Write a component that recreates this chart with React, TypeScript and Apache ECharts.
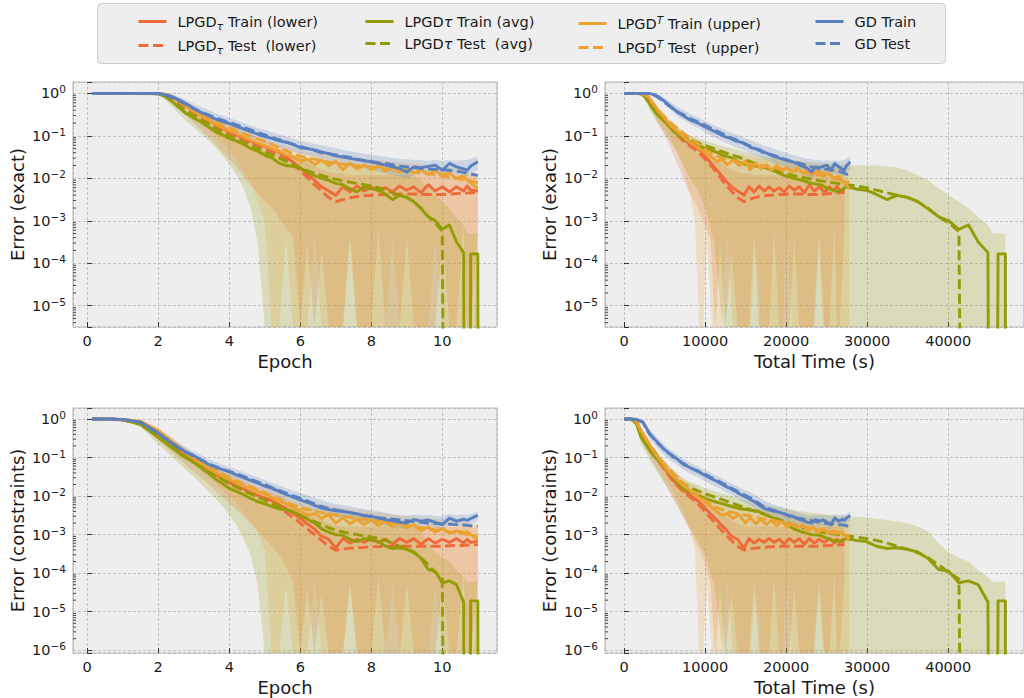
import React, { useEffect, useRef } from 'react';
import * as echarts from 'echarts';

// ---------------- x values ----------------
const EPOCHS = [0.14, 0.5, 1.0, 1.5, 2.0, 2.2, 2.4, 2.6, 2.8, 3.0,
  3.2, 3.4, 3.6, 3.8, 4.0, 4.2, 4.4, 4.6, 4.8, 5.0,
  5.2, 5.4, 5.6, 5.8, 6.0, 6.2, 6.4, 6.6, 6.8, 7.0,
  7.2, 7.4, 7.6, 7.8, 8.0, 8.2, 8.4, 8.6, 8.8, 9.0,
  9.2, 9.4, 9.6, 9.8, 10.0, 10.2, 10.4, 10.6, 10.7, 10.8,
  11.0, 11.05];

const TIME_LOWER = [0, 500, 1050, 1580, 2100, 2520, 2940, 3360, 3790, 4210,
  4640, 5060, 5490, 5920, 6350, 6780, 7200, 7640, 8120, 8600,
  9090, 9570, 10060, 10640, 11250, 11870, 12500, 13250, 14000, 14800,
  15420, 16040, 16660, 17280, 17900, 18520, 19140, 19760, 20380, 21000,
  21620, 22240, 22860, 23480, 24100, 24720, 25340, 25960, 26270, 26580,
  27200, null];
const TIME_AVG = [0, 500, 1050, 1580, 2100, 2550, 3000, 3480, 3980, 4500,
  5040, 5600, 6180, 6700, 7250, 7900, 8940, 10030, 11120, 12210,
  13300, 14390, 15480, 16570, 17660, 18750, 19840, 20930, 22020, 23110,
  24200, 25290, 26380, 27470, 28620, 29890, 31160, 32430, 33700, 34970,
  36240, 37510, 38780, 40050, 41320, 42500, 43700, 44900, 45500, 46150,
  47050, 47100];
const TIME_UPPER = [0, 500, 1050, 1580, 2100, 2530, 2960, 3390, 3820, 4250,
  4690, 5130, 5570, 6010, 6450, 6890, 7330, 7780, 8260, 8750,
  9250, 9750, 10250, 10850, 11460, 12080, 12720, 13450, 14200, 14950,
  15600, 16250, 16900, 17550, 18200, 18840, 19480, 20120, 20760, 21400,
  22040, 22680, 23320, 23960, 24600, 25240, 25880, 26520, 26840, 27160,
  27800, null];
const TIME_GD = [0, 750, 1550, 2330, 3100, 3670, 4240, 4810, 5390, 6000,
  6640, 7280, 7920, 8570, 9230, 9880, 10520, 11170, 11820, 12460,
  13110, 13760, 14400, 15050, 15700, 16210, 16720, 17230, 17750, 18260,
  18780, 19290, 19800, 20280, 20760, 21240, 21710, 22190, 22670, 23140,
  23620, 24100, 24570, 25050, 25520, 26000, 26470, 26950, 27190, 27420,
  27900, null];

// ---------------- Error (exact) ----------------
const EX_LOW_TRAIN = [1, 1, 1, 0.995, 0.985, 0.933, 0.794, 0.631, 0.501, 0.38,
  0.302, 0.24, 0.191, 0.151, 0.126, 0.105, 0.0891, 0.0759, 0.0631, 0.0562,
  0.0501, 0.0417, 0.0316, 0.024, 0.0174, 0.0126, 0.00891, 0.00631, 0.00501, 0.00398,
  0.00631, 0.00479, 0.00661, 0.00501, 0.00631, 0.00501, 0.00603, 0.00479, 0.00661, 0.00525,
  0.00631, 0.00457, 0.00708, 0.00501, 0.00631, 0.00479, 0.00631, 0.00501, 0.00661, 0.00525,
  0.00501, null];
const EX_LOW_TEST = [1, 1, 1, 0.995, 0.985, 0.912, 0.759, 0.603, 0.468, 0.363,
  0.282, 0.224, 0.174, 0.138, 0.115, 0.0955, 0.0794, 0.0676, 0.0575, 0.0501,
  0.0417, 0.0347, 0.0275, 0.0209, 0.0151, 0.0105, 0.00708, 0.00501, 0.00355, 0.00282,
  0.00316, 0.00347, 0.00372, 0.00389, 0.00398, 0.00407, 0.00417, 0.00417, 0.00427, 0.00427,
  0.00427, 0.00417, 0.00417, 0.00417, 0.00417, 0.00427, 0.00437, 0.00447, 0.00447, 0.00457,
  0.00468, null];
const EX_AVG_TRAIN = [1, 1, 1, 0.995, 0.977, 0.832, 0.631, 0.447, 0.331, 0.263,
  0.214, 0.166, 0.126, 0.105, 0.0871, 0.0759, 0.0631, 0.0501, 0.0437, 0.0347,
  0.0302, 0.0229, 0.02, 0.0191, 0.0174, 0.0141, 0.0115, 0.01, 0.00891, 0.00759,
  0.00708, 0.00562, 0.00479, 0.00631, 0.00562, 0.00525, 0.00417, 0.00316, 0.00398, 0.00355,
  0.00282, 0.00191, 0.00126, 0.001, 0.000631, 0.000794, 0.000316, 0.000178, 1e-30, 0.000166,
  0.000166, 1e-30];
const EX_AVG_TEST = [1, 1, 1, 0.995, 0.977, 0.871, 0.692, 0.501, 0.38, 0.302,
  0.24, 0.191, 0.151, 0.12, 0.1, 0.0832, 0.0708, 0.0589, 0.0501, 0.0417,
  0.0355, 0.0302, 0.0251, 0.0209, 0.0174, 0.0151, 0.0132, 0.0117, 0.0105, 0.00955,
  0.00871, 0.00813, 0.00759, 0.00708, 0.00661, 0.00603, 0.00525, 0.00457, 0.00398, 0.00355,
  0.00282, 0.002, 0.00126, 0.000891, 0.000562, 1e-30, null, null, null, null,
  null, null];
const EX_UP_TRAIN = [1, 1, 1, 1, 0.99, 0.955, 0.832, 0.661, 0.501, 0.38,
  0.302, 0.24, 0.191, 0.158, 0.132, 0.112, 0.0955, 0.0794, 0.0676, 0.0589,
  0.0501, 0.0437, 0.0355, 0.0316, 0.0251, 0.0282, 0.0209, 0.0269, 0.02, 0.0251,
  0.0158, 0.0229, 0.0166, 0.0209, 0.0158, 0.02, 0.0151, 0.0182, 0.0141, 0.0174,
  0.0132, 0.0158, 0.0126, 0.0151, 0.012, 0.0132, 0.01, 0.0112, 0.00891, 0.00794,
  0.00575, null];
const EX_UP_TEST = [1, 1, 1, 1, 0.99, 0.933, 0.794, 0.631, 0.501, 0.398,
  0.316, 0.263, 0.219, 0.182, 0.158, 0.135, 0.115, 0.1, 0.0851, 0.0741,
  0.0631, 0.0525, 0.0447, 0.038, 0.0331, 0.0302, 0.0282, 0.0263, 0.024, 0.0224,
  0.0214, 0.0204, 0.0195, 0.0186, 0.0182, 0.0174, 0.0166, 0.0158, 0.0151, 0.0145,
  0.0138, 0.0132, 0.0126, 0.012, 0.0115, 0.0107, 0.01, 0.00933, 0.00891, 0.00851,
  0.00794, null];
const EX_GD_TRAIN = [1, 1, 1, 1, 0.99, 0.933, 0.832, 0.692, 0.562, 0.447,
  0.355, 0.302, 0.251, 0.219, 0.195, 0.166, 0.145, 0.126, 0.11, 0.0955,
  0.0871, 0.0759, 0.0708, 0.0631, 0.0525, 0.0501, 0.0468, 0.0417, 0.038, 0.0339,
  0.0316, 0.0295, 0.0275, 0.0257, 0.0245, 0.0224, 0.0204, 0.0186, 0.017, 0.0141,
  0.0186, 0.0178, 0.0191, 0.0204, 0.0155, 0.0224, 0.0186, 0.0166, 0.0155, 0.0195,
  0.0245, null];
const EX_GD_TEST = [1, 1, 1, 1, 0.99, 0.912, 0.794, 0.661, 0.537, 0.437,
  0.363, 0.316, 0.269, 0.234, 0.209, 0.182, 0.158, 0.138, 0.12, 0.105,
  0.0912, 0.0813, 0.0724, 0.0631, 0.0562, 0.0501, 0.0447, 0.0398, 0.038, 0.0355,
  0.0331, 0.0309, 0.0282, 0.0263, 0.0245, 0.0234, 0.0224, 0.0209, 0.0195, 0.0186,
  0.0178, 0.017, 0.0166, 0.0162, 0.0158, 0.0155, 0.0148, 0.0138, 0.0132, 0.0126,
  0.0117, null];

// bands (exact)
const EX_LOW_HI = [1, 1, 1, 1, 1, 0.97, 0.86, 0.7, 0.56, 0.45,
  0.36, 0.29, 0.24, 0.19, 0.16, 0.135, 0.115, 0.1, 0.085, 0.075,
  0.066, 0.057, 0.047, 0.038, 0.03, 0.024, 0.019, 0.016, 0.014, 0.013,
  0.013, 0.012, 0.012, 0.012, 0.012, 0.012, 0.012, 0.012, 0.012, 0.012,
  0.012, 0.012, 0.012, 0.012, 0.012, 0.012, 0.012, 0.012, 0.012, 0.012,
  0.011, null];
const EX_LOW_LO = [1, 1, 1, 0.99, 0.97, 0.85, 0.65, 0.45, 0.3, 0.2,
  0.14, 0.095, 0.065, 0.042, 0.028, 0.018, 0.011, 0.007, 0.0045, 0.003,
  0.002, 0.0012, 7e-4, 4e-4, 1e-30, 3e-4, 1e-30, 2e-4, 1e-30, 1e-30,
  1e-30, 5e-4, 1e-30, 1e-30, 1e-30, 6e-4, 1e-30, 1e-30, 1e-30, 4e-4,
  1e-30, 1e-30, 1e-30, 1e-30, 5e-4, 1e-30, 1e-30, 8e-4, 1e-30, 1e-30,
  5e-4, null];
const EX_AVG_HI = [1, 1, 1, 1, 0.99, 0.9, 0.72, 0.52, 0.4, 0.32,
  0.27, 0.22, 0.18, 0.15, 0.125, 0.105, 0.09, 0.077, 0.066, 0.058,
  0.051, 0.045, 0.04, 0.035, 0.032, 0.03, 0.028, 0.027, 0.025, 0.024,
  0.023, 0.022, 0.021, 0.021, 0.02, 0.02, 0.02, 0.019, 0.018, 0.015,
  0.012, 0.009, 0.006, 0.004, 0.0028, 0.002, 0.0012, 8e-4, 5e-4, 5e-4,
  5e-4, null];
const EX_AVG_LO = [1, 1, 1, 0.99, 0.96, 0.7, 0.48, 0.32, 0.22, 0.16,
  0.115, 0.08, 0.055, 0.035, 0.022, 0.012, 0.006, 0.002, 3e-4, 1e-30,
  1e-30, 1e-30, 1e-30, 1e-30, 1e-30, 1e-30, 1e-30, 1e-30, 1e-30, 1e-30,
  1e-30, 1e-30, 1e-30, 1e-30, 1e-30, 1e-30, 1e-30, 1e-30, 1e-30, 1e-30,
  1e-30, 1e-30, 1e-30, 1e-30, 1e-30, 1e-30, 1e-30, 1e-30, 1e-30, 1e-30,
  1e-30, null];
const EX_UP_HI = [1, 1, 1, 1, 1, 0.98, 0.9, 0.76, 0.62, 0.48,
  0.39, 0.31, 0.25, 0.21, 0.18, 0.15, 0.13, 0.11, 0.095, 0.085,
  0.075, 0.065, 0.058, 0.052, 0.047, 0.043, 0.04, 0.038, 0.036, 0.034,
  0.032, 0.031, 0.03, 0.029, 0.028, 0.027, 0.026, 0.025, 0.024, 0.023,
  0.022, 0.021, 0.02, 0.02, 0.019, 0.018, 0.017, 0.016, 0.015, 0.014,
  0.013, null];
const EX_UP_LO = [1, 1, 1, 1, 0.98, 0.88, 0.7, 0.5, 0.36, 0.26,
  0.19, 0.14, 0.1, 0.07, 0.045, 0.028, 0.016, 0.008, 0.003, 0.001,
  1e-30, 1e-30, 4e-4, 1e-30, 1e-30, 1e-30, 6e-4, 1e-30, 1e-30, 1e-30,
  1e-30, 3e-4, 1e-30, 1e-30, 1e-30, 1e-30, 1e-30, 5e-4, 1e-30, 1e-30,
  1e-30, 1e-30, 1e-30, 4e-4, 1e-30, 1e-30, 1e-30, 1e-30, 1e-30, 1e-30,
  1e-30, null];
const EX_GD_HI = [1, 1, 1, 1, 1, 1, 0.95, 0.82, 0.7, 0.58,
  0.48, 0.41, 0.35, 0.3, 0.265, 0.23, 0.2, 0.175, 0.155, 0.137,
  0.122, 0.108, 0.097, 0.087, 0.078, 0.071, 0.065, 0.06, 0.055, 0.051,
  0.047, 0.044, 0.041, 0.038, 0.036, 0.034, 0.032, 0.03, 0.029, 0.028,
  0.027, 0.027, 0.026, 0.027, 0.026, 0.027, 0.026, 0.027, 0.027, 0.029,
  0.033, null];
const EX_GD_LO = [1, 1, 1, 1, 0.98, 0.88, 0.74, 0.6, 0.47, 0.37,
  0.29, 0.24, 0.2, 0.17, 0.15, 0.125, 0.108, 0.093, 0.08, 0.069,
  0.062, 0.054, 0.049, 0.044, 0.038, 0.035, 0.032, 0.029, 0.026, 0.024,
  0.022, 0.02, 0.018, 0.017, 0.016, 0.014, 0.013, 0.012, 0.011, 0.01,
  0.012, 0.012, 0.012, 0.012, 0.011, 0.013, 0.012, 0.011, 0.011, 0.013,
  0.016, null];

// ---------------- Error (constraints) ----------------
const CN_LOW_TRAIN = [1, 1, 0.955, 0.794, 0.38, 0.282, 0.209, 0.158, 0.117, 0.0891,
  0.0676, 0.0501, 0.038, 0.0282, 0.0224, 0.0186, 0.0151, 0.0126, 0.0105, 0.00891,
  0.00759, 0.00603, 0.00468, 0.00355, 0.00263, 0.00191, 0.00141, 0.000912, 0.000759, 0.000447,
  0.000794, 0.000603, 0.000759, 0.000631, 0.000794, 0.000631, 0.000759, 0.000575, 0.000794, 0.000631,
  0.000794, 0.000562, 0.000794, 0.000603, 0.000759, 0.000631, 0.000794, 0.000603, 0.000759, 0.000631,
  0.000676, null];
const CN_LOW_TEST = [1, 1, 0.933, 0.741, 0.355, 0.269, 0.2, 0.151, 0.112, 0.0851,
  0.0631, 0.0479, 0.0355, 0.0269, 0.0209, 0.017, 0.0138, 0.0115, 0.00955, 0.00794,
  0.00631, 0.00501, 0.0038, 0.00275, 0.002, 0.00141, 0.001, 0.000708, 0.000501, 0.000398,
  0.000417, 0.000447, 0.000457, 0.000468, 0.000479, 0.00049, 0.000501, 0.000501, 0.000501, 0.000501,
  0.000501, 0.000501, 0.000501, 0.000501, 0.000501, 0.000513, 0.000525, 0.000525, 0.000537, 0.000537,
  0.00055, null];
const CN_AVG_TRAIN = [1, 1, 0.955, 0.724, 0.331, 0.24, 0.174, 0.126, 0.0955, 0.0741,
  0.055, 0.0398, 0.0282, 0.0214, 0.0158, 0.0132, 0.011, 0.00871, 0.00724, 0.00631,
  0.00537, 0.00468, 0.00437, 0.00398, 0.00316, 0.00251, 0.002, 0.00141, 0.00117, 0.001,
  0.000955, 0.000759, 0.000661, 0.000794, 0.000708, 0.000661, 0.000501, 0.000437, 0.000457, 0.000417,
  0.000355, 0.00024, 0.000126, 0.000112, 5.62e-5, 6.31e-5, 5.01e-5, 1.78e-5, 1e-30, 1.91e-5,
  1.91e-5, 1e-30];
const CN_AVG_TEST = [1, 1, 0.955, 0.759, 0.355, 0.263, 0.191, 0.141, 0.107, 0.0832,
  0.0631, 0.0479, 0.0355, 0.0275, 0.0214, 0.0174, 0.0141, 0.0115, 0.00955, 0.00794,
  0.00661, 0.0055, 0.00457, 0.0038, 0.00316, 0.00263, 0.00219, 0.00182, 0.00151, 0.00132,
  0.00117, 0.00107, 0.001, 0.000933, 0.000871, 0.000794, 0.000708, 0.000603, 0.000501, 0.000417,
  0.000339, 0.000251, 0.000166, 0.000105, 7.08e-5, 1e-30, null, null, null, null,
  null, null];
const CN_UP_TRAIN = [1, 1, 0.977, 0.871, 0.501, 0.355, 0.251, 0.178, 0.126, 0.0955,
  0.0724, 0.0537, 0.0417, 0.0331, 0.0269, 0.0224, 0.0186, 0.0158, 0.0132, 0.011,
  0.00912, 0.00759, 0.00631, 0.00501, 0.00398, 0.00316, 0.00355, 0.00263, 0.00331, 0.002,
  0.00275, 0.00191, 0.00251, 0.00182, 0.0024, 0.0017, 0.00219, 0.00158, 0.002, 0.00151,
  0.00182, 0.00126, 0.00158, 0.00115, 0.00145, 0.0011, 0.00126, 0.00112, 0.0012, 0.001,
  0.000741, null];
const CN_UP_TEST = [1, 1, 0.977, 0.851, 0.468, 0.347, 0.251, 0.186, 0.138, 0.105,
  0.0794, 0.0617, 0.0479, 0.038, 0.0302, 0.0251, 0.0209, 0.0174, 0.0145, 0.012,
  0.01, 0.00832, 0.00692, 0.00589, 0.00501, 0.00447, 0.00407, 0.00372, 0.00347, 0.00324,
  0.00302, 0.00282, 0.00263, 0.00251, 0.0024, 0.00224, 0.00209, 0.002, 0.00186, 0.00174,
  0.00162, 0.00151, 0.00141, 0.00132, 0.00126, 0.00117, 0.0011, 0.00105, 0.001, 0.000955,
  0.000912, null];
const CN_GD_TRAIN = [1, 1, 0.977, 0.832, 0.437, 0.316, 0.234, 0.174, 0.138, 0.112,
  0.0891, 0.0676, 0.0575, 0.049, 0.0427, 0.0355, 0.0302, 0.0257, 0.0219, 0.0182,
  0.0158, 0.0132, 0.011, 0.00933, 0.00794, 0.00692, 0.00575, 0.0049, 0.00447, 0.00417,
  0.00398, 0.00372, 0.00347, 0.00316, 0.00302, 0.00269, 0.00245, 0.00229, 0.00209, 0.002,
  0.00245, 0.00224, 0.0024, 0.00209, 0.00182, 0.00269, 0.00224, 0.00251, 0.00234, 0.00263,
  0.00316, null];
const CN_GD_TEST = [1, 1, 0.977, 0.813, 0.417, 0.309, 0.229, 0.174, 0.135, 0.107,
  0.0871, 0.0708, 0.0589, 0.0501, 0.0437, 0.038, 0.0324, 0.0275, 0.0234, 0.0199,
  0.0166, 0.0141, 0.012, 0.0102, 0.00871, 0.00741, 0.00631, 0.00537, 0.00479, 0.00437,
  0.00407, 0.00372, 0.00339, 0.00309, 0.00288, 0.00275, 0.00263, 0.00251, 0.0024, 0.00229,
  0.00219, 0.00209, 0.002, 0.00195, 0.00191, 0.00186, 0.00182, 0.00178, 0.00174, 0.0017,
  0.00166, null];

// bands (constraints)
const CN_LOW_HI = [1, 1, 1, 0.9, 0.5, 0.38, 0.28, 0.21, 0.16, 0.12,
  0.092, 0.07, 0.054, 0.042, 0.034, 0.028, 0.023, 0.019, 0.016, 0.014,
  0.012, 0.01, 0.0082, 0.0064, 0.005, 0.0039, 0.0031, 0.0024, 0.002, 0.0017,
  0.0016, 0.0016, 0.0016, 0.0016, 0.0016, 0.0016, 0.0016, 0.0016, 0.0016, 0.0016,
  0.0016, 0.0016, 0.0016, 0.0016, 0.0016, 0.0016, 0.0016, 0.0016, 0.0016, 0.0016,
  0.0015, null];
const CN_LOW_LO = [1, 1, 0.94, 0.68, 0.28, 0.19, 0.13, 0.09, 0.062, 0.043,
  0.03, 0.021, 0.014, 0.0095, 0.0065, 0.0045, 0.003, 0.002, 0.0013, 8e-4,
  5e-4, 3e-4, 1.5e-4, 6e-5, 1e-30, 4e-5, 1e-30, 3e-5, 1e-30, 1e-30,
  1e-30, 6e-5, 1e-30, 1e-30, 1e-30, 8e-5, 1e-30, 1e-30, 1e-30, 5e-5,
  1e-30, 1e-30, 1e-30, 1e-30, 6e-5, 1e-30, 1e-30, 1e-4, 1e-30, 1e-30,
  6e-5, null];
const CN_AVG_HI = [1, 1, 1, 0.8, 0.42, 0.31, 0.23, 0.17, 0.13, 0.1,
  0.078, 0.06, 0.046, 0.036, 0.028, 0.024, 0.02, 0.016, 0.0135, 0.0115,
  0.01, 0.0085, 0.0075, 0.0066, 0.0058, 0.0052, 0.0047, 0.0043, 0.004, 0.0037,
  0.0035, 0.0033, 0.0031, 0.003, 0.0029, 0.0028, 0.0026, 0.0024, 0.0022, 0.002,
  0.0016, 0.0012, 6e-4, 3.5e-4, 2.5e-4, 2e-4, 1.2e-4, 8e-5, 6e-5, 6e-5,
  6e-5, null];
const CN_AVG_LO = [1, 1, 0.95, 0.62, 0.22, 0.15, 0.1, 0.068, 0.046, 0.032,
  0.021, 0.014, 0.009, 0.0055, 0.0032, 0.0018, 8e-4, 3e-4, 5e-5, 1e-30,
  1e-30, 1e-30, 1e-30, 1e-30, 1e-30, 1e-30, 1e-30, 1e-30, 1e-30, 1e-30,
  1e-30, 1e-30, 1e-30, 1e-30, 1e-30, 1e-30, 1e-30, 1e-30, 1e-30, 1e-30,
  1e-30, 1e-30, 1e-30, 1e-30, 1e-30, 1e-30, 1e-30, 1e-30, 1e-30, 1e-30,
  1e-30, null];
const CN_UP_HI = [1, 1, 1, 0.93, 0.6, 0.44, 0.32, 0.23, 0.165, 0.125,
  0.098, 0.076, 0.06, 0.049, 0.041, 0.034, 0.029, 0.025, 0.021, 0.018,
  0.015, 0.013, 0.011, 0.0095, 0.0082, 0.0072, 0.0066, 0.006, 0.0056, 0.0052,
  0.0049, 0.0046, 0.0044, 0.0042, 0.004, 0.0038, 0.0036, 0.0034, 0.0032, 0.003,
  0.0029, 0.0028, 0.0027, 0.0026, 0.0025, 0.0024, 0.0023, 0.0022, 0.0021, 0.002,
  0.0018, null];
const CN_UP_LO = [1, 1, 0.96, 0.78, 0.38, 0.26, 0.18, 0.125, 0.088, 0.063,
  0.045, 0.032, 0.022, 0.015, 0.01, 0.0065, 0.004, 0.0022, 0.0011, 4e-4,
  1e-30, 1e-30, 5e-5, 1e-30, 1e-30, 1e-30, 8e-5, 1e-30, 1e-30, 1e-30,
  1e-30, 4e-5, 1e-30, 1e-30, 1e-30, 1e-30, 1e-30, 6e-5, 1e-30, 1e-30,
  1e-30, 1e-30, 1e-30, 5e-5, 1e-30, 1e-30, 1e-30, 1e-30, 1e-30, 1e-30,
  1e-30, null];
const CN_GD_HI = [1, 1, 1, 0.93, 0.56, 0.41, 0.31, 0.235, 0.18, 0.145,
  0.116, 0.092, 0.078, 0.066, 0.058, 0.049, 0.042, 0.036, 0.031, 0.026,
  0.022, 0.019, 0.016, 0.014, 0.0122, 0.0106, 0.009, 0.0078, 0.0069, 0.0062,
  0.0058, 0.0054, 0.005, 0.0046, 0.0043, 0.004, 0.0037, 0.0034, 0.0032, 0.0032,
  0.0033, 0.0032, 0.0033, 0.0031, 0.003, 0.0035, 0.0032, 0.0034, 0.0033, 0.0035,
  0.004, null];
const CN_GD_LO = [1, 1, 0.95, 0.72, 0.32, 0.23, 0.17, 0.125, 0.097, 0.078,
  0.062, 0.048, 0.041, 0.035, 0.03, 0.025, 0.021, 0.018, 0.0155, 0.0128,
  0.011, 0.0093, 0.0077, 0.0065, 0.0055, 0.0048, 0.004, 0.0034, 0.0031, 0.0029,
  0.0028, 0.0026, 0.0024, 0.0022, 0.0021, 0.0019, 0.0017, 0.0016, 0.0015, 0.0014,
  0.0017, 0.0016, 0.0017, 0.0015, 0.0013, 0.0019, 0.0016, 0.0018, 0.0017, 0.0019,
  0.0022, null];

// ---------------- labels ----------------
const LEGEND_LABELS: Record<string, string> = {
  lowTrain: 'LPGD{sub|τ} Train (lower)',
  lowTest: 'LPGD{sub|τ} Test  (lower)',
  avgTrain: 'LPGD{it|τ} Train (avg)',
  avgTest: 'LPGD{it|τ} Test  (avg)',
  upTrain: 'LPGD{sup|T} Train (upper)',
  upTest: 'LPGD{sup|T} Test  (upper)',
  gdTrain: 'GD Train',
  gdTest: 'GD Test',
};

const RED = '#EE6A3A';
const OLIVE = '#939B06';
const ORANGE = '#EBA232';
const BLUE = '#5A7FBF';
const FONT = 'DejaVu Sans';
const TEXT = '#1a1a1a';

const GRIDS = [
  { left: 73, top: 82, width: 424, height: 245 },
  { left: 605, top: 82, width: 424, height: 245 },
  { left: 73, top: 408, width: 424, height: 245 },
  { left: 605, top: 408, width: 424, height: 245 },
];

const METHODS = [
  { key: 'low', color: RED, xsTime: TIME_LOWER, train: [EX_LOW_TRAIN, CN_LOW_TRAIN], test: [EX_LOW_TEST, CN_LOW_TEST], hi: [EX_LOW_HI, CN_LOW_HI], lo: [EX_LOW_LO, CN_LOW_LO] },
  { key: 'avg', color: OLIVE, xsTime: TIME_AVG, train: [EX_AVG_TRAIN, CN_AVG_TRAIN], test: [EX_AVG_TEST, CN_AVG_TEST], hi: [EX_AVG_HI, CN_AVG_HI], lo: [EX_AVG_LO, CN_AVG_LO] },
  { key: 'up', color: ORANGE, xsTime: TIME_UPPER, train: [EX_UP_TRAIN, CN_UP_TRAIN], test: [EX_UP_TEST, CN_UP_TEST], hi: [EX_UP_HI, CN_UP_HI], lo: [EX_UP_LO, CN_UP_LO] },
  { key: 'gd', color: BLUE, xsTime: TIME_GD, train: [EX_GD_TRAIN, CN_GD_TRAIN], test: [EX_GD_TEST, CN_GD_TEST], hi: [EX_GD_HI, CN_GD_HI], lo: [EX_GD_LO, CN_GD_LO] },
];

// minor log-tick positions (axis decoration): m * 10^k
const MINOR_TICKS: number[] = [];
for (let k = -7; k <= 0; k++) {
  for (let m = 2; m <= 9; m++) MINOR_TICKS.push(m * Math.pow(10, k));
}

function pairs(xs: (number | null)[], ys: (number | null)[]) {
  const out: number[][] = [];
  for (let i = 0; i < xs.length; i++) {
    if (xs[i] == null || ys[i] == null) continue;
    out.push([xs[i] as number, ys[i] as number]);
  }
  return out;
}

function bandSeries(idx: number, xs: any[], hi: any[], lo: any[], color: string) {
  const pts: number[][] = [];
  for (let i = 0; i < xs.length; i++) {
    if (xs[i] == null || hi[i] == null || lo[i] == null) continue;
    pts.push([xs[i], hi[i], lo[i]]);
  }
  return {
    type: 'custom',
    xAxisIndex: idx,
    yAxisIndex: idx,
    silent: true,
    z: 1,
    data: [[pts[0][0], pts[0][1]]],
    renderItem: (params: any, api: any) => {
      const cs = params.coordSys;
      const clampY = (y: number) => Math.min(cs.y + cs.height, Math.max(cs.y, y));
      const up = pts.map((p) => {
        const c = api.coord([p[0], p[1]]);
        return [c[0], clampY(c[1])];
      });
      const dn = pts
        .map((p) => {
          const c = api.coord([p[0], p[2]]);
          return [c[0], clampY(c[1])];
        })
        .reverse();
      return {
        type: 'polygon',
        shape: { points: up.concat(dn) },
        style: { fill: color, opacity: 0.22 },
      };
    },
  };
}

function minorTickSeries(idx: number, xRef: number) {
  return {
    type: 'custom',
    xAxisIndex: idx,
    yAxisIndex: idx,
    silent: true,
    z: 4,
    data: [[xRef, 1]],
    renderItem: (params: any, api: any) => {
      const cs = params.coordSys;
      const children: any[] = [];
      for (const v of MINOR_TICKS) {
        const y = api.coord([xRef, v])[1];
        if (y < cs.y + 1 || y > cs.y + cs.height - 1) continue;
        children.push({
          type: 'line',
          shape: { x1: cs.x, y1: y, x2: cs.x + 3, y2: y },
          style: { stroke: '#333', lineWidth: 0.9 },
        });
      }
      return { type: 'group', children };
    },
  };
}

function lineSeries(idx: number, name: string, xs: any[], ys: any[], color: string, dashed: boolean) {
  return {
    type: 'line',
    name,
    xAxisIndex: idx,
    yAxisIndex: idx,
    data: pairs(xs, ys),
    symbol: 'none',
    showSymbol: false,
    silent: true,
    clip: true,
    z: 3,
    lineStyle: { color, width: 2.9, type: dashed ? [10, 4.5] : 'solid', cap: 'butt', join: 'round' },
    itemStyle: { color },
  };
}

const supStyle = { fontSize: 10.5, fontFamily: FONT, color: TEXT, padding: [0, 0, 8, 0] };

function yAxis(idx: number, min: number, max: number, name: string, splitNumber: number) {
  return {
    type: 'log',
    logBase: 10,
    gridIndex: idx,
    min,
    max,
    splitNumber,
    name,
    nameLocation: 'middle',
    nameGap: 47,
    nameTextStyle: { fontSize: 18, fontFamily: FONT, color: TEXT },
    axisLine: { show: false },
    axisTick: { show: true, inside: true, length: 5, lineStyle: { color: '#333', width: 1 } },
    splitLine: { show: true, lineStyle: { color: '#b5b5b5', width: 0.8, type: [3, 2] } },
    axisLabel: {
      margin: 7,
      fontSize: 14.5,
      fontFamily: FONT,
      color: TEXT,
      formatter: (v: number) => {
        const e = Math.log10(v);
        const r = Math.round(e);
        if (Math.abs(e - r) > 1e-4) return '';
        return '10{sup|' + (r < 0 ? '\u2212' + -r : String(r)) + '}';
      },
      rich: { sup: supStyle },
    },
  };
}

function xAxis(idx: number, min: number, max: number, name: string, splitNumber: number, step: number) {
  return {
    type: 'value',
    gridIndex: idx,
    min,
    max,
    splitNumber,
    name,
    nameLocation: 'middle',
    nameGap: 25,
    nameTextStyle: { fontSize: 18, fontFamily: FONT, color: TEXT },
    axisLine: { show: false },
    axisTick: { show: true, inside: true, length: 5, lineStyle: { color: '#333', width: 1 } },
    splitLine: { show: true, lineStyle: { color: '#b5b5b5', width: 0.8, type: [3, 2] } },
    axisLabel: {
      margin: 6,
      fontSize: 14.5,
      fontFamily: FONT,
      color: TEXT,
      showMinLabel: false,
      showMaxLabel: false,
      formatter: (v: number) => {
        const k = v / step;
        if (Math.abs(k - Math.round(k)) > 1e-6) return '';
        return String(Math.round(v));
      },
    },
  };
}

function buildOption() {
  const series: any[] = [];
  for (let p = 0; p < 4; p++) {
    const metric = p < 2 ? 0 : 1;
    const isTime = p % 2 === 1;
    for (const m of METHODS) {
      const xs = isTime ? m.xsTime : EPOCHS;
      series.push(bandSeries(p, xs, m.hi[metric], m.lo[metric], m.color));
    }
    for (const m of METHODS) {
      const xs = isTime ? m.xsTime : EPOCHS;
      series.push(lineSeries(p, m.key + 'Train', xs, m.train[metric], m.color, false));
      series.push(lineSeries(p, m.key + 'Test', xs, m.test[metric], m.color, true));
    }
    series.push(minorTickSeries(p, isTime ? 0 : 1));
  }

  const legendCols = [
    { left: 137, data: ['lowTrain', 'lowTest'] },
    { left: 364, data: ['avgTrain', 'avgTest'] },
    { left: 577, data: ['upTrain', 'upTest'] },
    { left: 814, data: ['gdTrain', 'gdTest'] },
  ];
  const legend = legendCols.map((c) => ({
    left: c.left,
    top: 14,
    orient: 'vertical',
    padding: 0,
    itemWidth: 28,
    itemHeight: 14,
    itemGap: 7,
    selectedMode: false,
    data: c.data,
    itemStyle: { opacity: 0, borderWidth: 0 },
    lineStyle: { width: 3 },
    formatter: (n: string) => LEGEND_LABELS[n],
    textStyle: {
      fontSize: 14.5,
      fontFamily: FONT,
      color: TEXT,
      padding: [0, 0, 0, 6],
      rich: {
        sub: { fontSize: 10.5, fontStyle: 'italic', fontFamily: FONT, color: TEXT, padding: [8, 0, 0, 0] },
        sup: { fontSize: 10.5, fontStyle: 'italic', fontFamily: FONT, color: TEXT, padding: [0, 0, 8, 0] },
        it: { fontSize: 14.5, fontStyle: 'italic', fontFamily: FONT, color: TEXT },
      },
    },
  }));

  return {
    animation: false,
    backgroundColor: '#ffffff',
    grid: GRIDS.map((g) => ({ ...g, show: true, backgroundColor: '#eeeeee', borderColor: '#bcbcbc', borderWidth: 1.2 })),
    xAxis: [
      xAxis(0, -0.4, 11.54, 'Epoch', 6, 2),
      xAxis(1, -2350, 49350, 'Total Time (s)', 5, 10000),
      xAxis(2, -0.4, 11.54, 'Epoch', 6, 2),
      xAxis(3, -2350, 49350, 'Total Time (s)', 5, 10000),
    ],
    yAxis: [
      yAxis(0, 3.16e-6, 1.85, 'Error (exact)', 6),
      yAxis(1, 3.16e-6, 1.85, 'Error (exact)', 6),
      yAxis(2, 8.5e-7, 1.93, 'Error (constraints)', 7),
      yAxis(3, 8.5e-7, 1.93, 'Error (constraints)', 7),
    ],
    legend,
    graphic: [
      {
        type: 'rect',
        z: 0,
        shape: { x: 97.5, y: 3.5, width: 848, height: 60, r: 4 },
        style: { fill: '#eeeeee', stroke: '#cccccc', lineWidth: 1 },
        silent: true,
      },
    ],
    series,
  };
}

export default function App() {
  const ref = useRef<HTMLDivElement>(null);
  useEffect(() => {
    const chart = echarts.init(ref.current as HTMLDivElement, null, { renderer: 'svg' });
    chart.setOption(buildOption() as any);
    return () => chart.dispose();
  }, []);
  return <div ref={ref} style={{ position: 'absolute', left: 0, top: 0, width: 1024, height: 698 }} />;
}
